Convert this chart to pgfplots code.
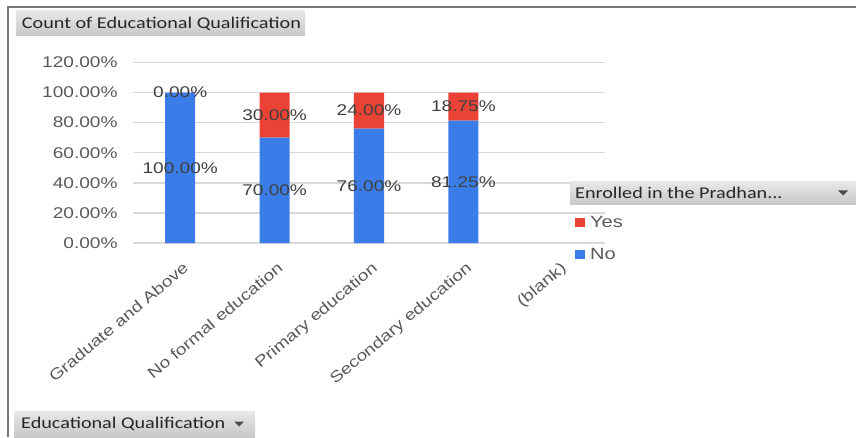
\documentclass[border=0pt]{standalone}
\usepackage{pgfplots}
\pgfplotsset{compat=1.18}
\usepackage{pgfplotstable}
\usepackage{fontspec}
\setmainfont{Liberation Sans}[FakeStretch=1.23]
\newfontfamily\calibri{Carlito}[FakeStretch=1.23]

\definecolor{barblue}{RGB}{59,125,232}
\definecolor{barred}{RGB}{234,67,53}
\definecolor{ticktext}{RGB}{89,89,89}
\definecolor{labeltext}{RGB}{64,64,64}
\definecolor{gridgray}{RGB}{217,217,217}
\definecolor{framegray}{RGB}{120,120,120}
\definecolor{btntop}{RGB}{232,232,232}
\definecolor{btnbottom}{RGB}{200,200,200}

% share of each qualification group enrolled (yes) or not (no), in percent
\pgfplotstableread{
x no yes
0 100 0
1 70 30
2 76 24
3 81.25 18.75
}\shares

\pgfplotsset{
  pivotframe/.style={
    at={(133pt,194pt)}, anchor=south west,
    scale only axis, width=472pt, height=180.6pt,
    xmin=-0.5, xmax=4.5, ymin=0, ymax=120,
  },
}

\begin{document}
\begin{tikzpicture}
\useasboundingbox (0pt,0pt) rectangle (856pt,437pt);

\begin{axis}[
  pivotframe,
  ybar stacked, bar width=30pt,
  axis line style={draw=none},
  tick style={draw=none},
  ymajorgrids, grid style={gridgray, line width=1.4pt},
  ytick={0,20,...,120},
  /pgf/number format/assume math mode=true,
  yticklabel={\pgfmathprintnumber[fixed,fixed zerofill,precision=2]{\tick}\%},
  yticklabel style={font=\fontsize{15.5}{18}\selectfont, text=ticktext, xshift=-12pt},
  xtick={0,1,2,3,4},
  xticklabels={Graduate and Above, No formal education, Primary education, Secondary education, (blank)},
  xticklabel style={font=\fontsize{15.5}{18}\selectfont, text=ticktext,
    rotate=40, anchor=north east, inner sep=2pt, xshift=-8pt, yshift=-13pt},
  reverse legend,
  legend cell align=left,
  legend image code/.code={\fill[#1, draw=none] (0pt,-4.5pt) rectangle (10pt,4.5pt);},
  legend style={at={(0.93,0.17)}, anchor=north west, draw=none, fill=none,
    font=\fontsize{16.3}{19}\selectfont, text=ticktext, row sep=15pt,
    column sep=3pt, nodes={inner sep=2pt}},
]
\addplot[fill=barblue, draw=none] table[x=x, y=no] {\shares};
\addlegendentry{No}
\addplot[fill=barred, draw=none] table[x=x, y=yes] {\shares};
\addlegendentry{Yes}
\end{axis}

% value labels, centred in each segment
\begin{axis}[
  pivotframe, hide axis,
  /pgf/number format/assume math mode=true,
  nodes near coords={\pgfmathprintnumber[fixed,fixed zerofill,precision=2]{\pgfplotspointmeta}\%},
  nodes near coords align=center,
  every node near coord/.append style={font=\fontsize{15.5}{18}\selectfont, text=labeltext, anchor=center},
]
\addplot[draw=none, mark=none, point meta=explicit]
  table[x=x, y expr=\thisrow{no}/2, meta=no] {\shares};
\addplot[draw=none, mark=none, point meta=explicit]
  table[x=x, y expr=\thisrow{no}+\thisrow{yes}/2, meta=yes] {\shares};
\end{axis}

% outer frame
\draw[framegray, line width=2pt] (8pt,0pt) -- (8pt,430pt) -- (860pt,430pt);

% field buttons
\shade[top color=btntop, bottom color=btnbottom] (16pt,401.3pt) rectangle (305pt,426pt);
\node[anchor=west, inner sep=0pt, text=black!85, font=\calibri\fontsize{16.4}{19}\selectfont]
  at (21.7pt,413.5pt) {Count of Educational Qualification};

\shade[top color=btntop, bottom color=btnbottom] (570pt,233pt) rectangle (860pt,255.3pt);
\node[anchor=west, inner sep=0pt, text=black!85, font=\calibri\fontsize{16.4}{19}\selectfont]
  at (575pt,244pt) {Enrolled in\ the Pradhan...};
\fill[black!70] (838pt,246.5pt) -- (848pt,246.5pt) -- (843pt,241.5pt) -- cycle;

\shade[top color=btntop, bottom color=btnbottom] (14pt,0pt) rectangle (255pt,26pt);
\node[anchor=west, inner sep=0pt, text=black!85, font=\calibri\fontsize{16.4}{19}\selectfont]
  at (21pt,13pt) {Educational Qualification};
\fill[black!70] (234pt,15.5pt) -- (244pt,15.5pt) -- (239pt,10.5pt) -- cycle;
\end{tikzpicture}
\end{document}
